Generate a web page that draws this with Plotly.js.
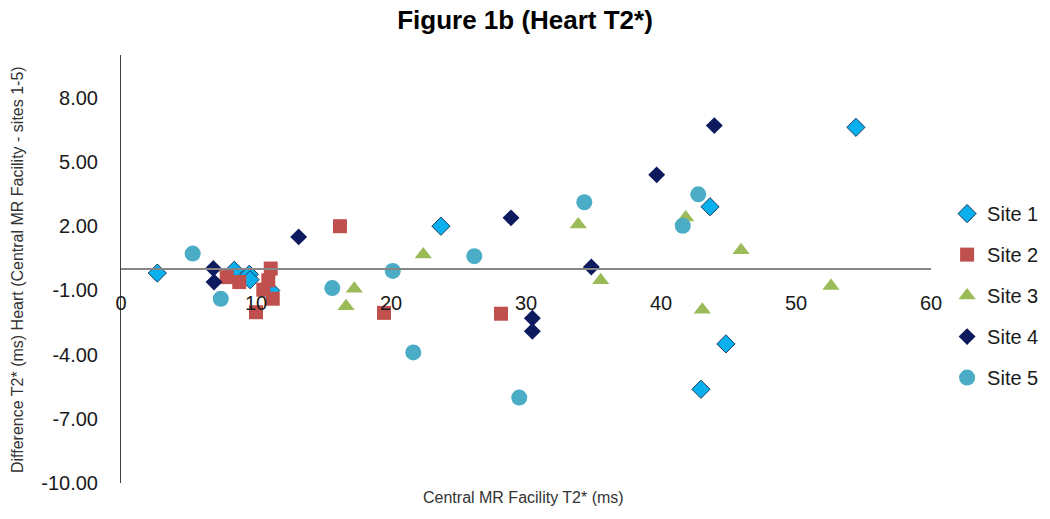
<!DOCTYPE html>
<html>
<head>
<meta charset="utf-8">
<script src="https://cdn.plot.ly/plotly-3.0.1.min.js"></script>
<style>html,body{margin:0;padding:0;background:#fff;}#chart{width:1050px;height:519px;}</style>
</head>
<body>
<div id="chart"></div>
<script>
// Central MR Facility T2* (ms) vs difference (ms)
const site1X = [2.69, 8.39, 9.50, 9.56, 11.09, 23.70, 43.63, 54.44, 44.81, 42.96];
const site1Y = [-0.19, -0.06, -0.25, -0.50, -1.00, 2.00, 2.91, 6.62, -3.50, -5.62];

const site2X = [7.83, 8.76, 11.09, 10.91, 10.54, 11.24, 10.00, 16.22, 19.48, 28.15];
const site2Y = [-0.38, -0.61, 0.02, -0.53, -0.97, -1.39, -2.02, 2.00, -2.05, -2.09];

const site3X = [22.39, 17.28, 16.67, 33.87, 41.83, 45.93, 35.53, 43.06, 52.59];
const site3Y = [0.68, -0.92, -1.74, 2.08, 2.41, 0.88, -0.53, -1.91, -0.80];

const site4X = [6.84, 6.89, 13.16, 28.89, 30.47, 30.47, 39.68, 43.95, 34.84];
const site4Y = [0.02, -0.61, 1.50, 2.39, -2.30, -2.91, 4.40, 6.70, 0.09];

const site5X = [5.31, 7.39, 15.65, 20.13, 26.17, 21.65, 29.50, 34.32, 42.76, 41.61];
const site5Y = [0.72, -1.39, -0.89, -0.09, 0.60, -3.90, -6.01, 3.12, 3.49, 2.02];

const seriesNames = ["Site 1", "Site 2", "Site 3", "Site 4", "Site 5"];
const yTickVals = [-10, -7, -4, -1, 2, 5, 8];
const yTickText = ["-10.00", "-7.00", "-4.00", "-1.00", "2.00", "5.00", "8.00"];
const xTickVals = [0, 10, 20, 30, 40, 50, 60];

const styles = [
  {symbol: "diamond", color: "#0AB0EE", size: 14, line: {color: "#1B3A5C", width: 1}},
  {symbol: "square", color: "#C0504D", size: 14, line: {color: "#C0504D", width: 0}},
  {symbol: "triangle-up", color: "#9BBB59", size: 15, line: {color: "#9BBB59", width: 0}},
  {symbol: "diamond", color: "#0E1A5E", size: 13, line: {color: "#0E1A5E", width: 0}},
  {symbol: "circle", color: "#4BACC6", size: 16, line: {color: "#4BACC6", width: 0}}
];
const xs = [site1X, site2X, site3X, site4X, site5X];
const ys = [site1Y, site2Y, site3Y, site4Y, site5Y];

const data = seriesNames.map((n, i) => ({
  type: "scatter", mode: "markers", name: n, legendgroup: "g" + i,
  x: xs[i], y: ys[i],
  marker: {symbol: styles[i].symbol, color: styles[i].color, size: styles[i].size, line: styles[i].line},
  hoverinfo: "x+y+name"
}));

const font = "Liberation Sans, Arial, sans-serif";
const layout = {
  width: 1050, height: 519,
  margin: {l: 121, r: 119, t: 55, b: 36},
  paper_bgcolor: "#ffffff", plot_bgcolor: "#ffffff",
  font: {family: font, color: "#1a1a1a"},
  title: {text: "<b>Figure 1b (Heart T2*)</b>", x: 0.5, xref: "container", y: 0.962, yanchor: "middle",
          font: {family: font, size: 26, color: "#000000"}},
  xaxis: {
    range: [0, 60], tickvals: xTickVals, anchor: "free", position: 0.5,
    showline: true, linecolor: "#868686", linewidth: 1.5,
    showgrid: false, zeroline: false,
    ticks: "outside", ticklen: 16, tickcolor: "rgba(0,0,0,0)",
    tickfont: {family: font, size: 20, color: "#1a1a1a"}
  },
  yaxis: {
    range: [-10, 10], tickvals: yTickVals, ticktext: yTickText,
    showline: true, linecolor: "#404040", linewidth: 1,
    showgrid: false, zeroline: false,
    ticks: "outside", ticklen: 18, tickcolor: "rgba(0,0,0,0)",
    tickfont: {family: font, size: 20, color: "#1a1a1a"}
  },
  legend: {
    xref: "container", yref: "container",
    x: 0.902, xanchor: "left", y: 0.626, yanchor: "top",
    font: {family: font, size: 20, color: "#1a1a1a"},
    tracegroupgap: 12, bgcolor: "rgba(0,0,0,0)"
  },
  annotations: [
    {text: "Central MR Facility T2* (ms)", xref: "paper", yref: "paper", x: 0.4975, y: -0.033,
     xanchor: "center", yanchor: "middle", showarrow: false, font: {family: font, size: 16, color: "#333333"}},
    {text: "Difference T2* (ms) Heart (Central MR Facility - sites 1-5)", xref: "paper", yref: "paper",
     x: -0.127, y: 0.498, xanchor: "center", yanchor: "middle", textangle: -90, showarrow: false,
     font: {family: font, size: 16, color: "#333333"}}
  ],
  showlegend: true
};

Plotly.newPlot("chart", data, layout, {displayModeBar: false, staticPlot: false});
</script>
</body>
</html>
